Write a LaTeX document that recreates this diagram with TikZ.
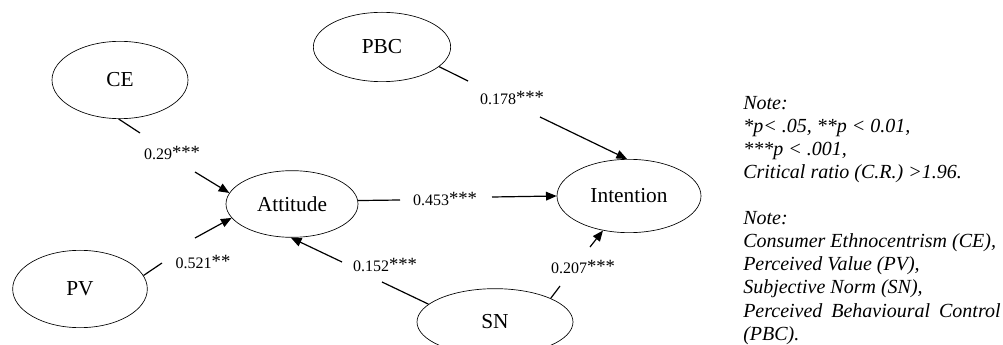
\documentclass[tikz,border=0pt]{standalone}
\usepackage{fontspec}
\setmainfont{Liberation Serif}
\usetikzlibrary{arrows.meta,shapes.geometric}

\newcommand{\sig}[1]{\raisebox{0.15ex}{\fontsize{14}{14}\selectfont#1}}

\begin{document}
\begin{tikzpicture}[x=0.75pt,y=-0.75pt,
  latent/.style={draw, ellipse, line width=0.5pt, inner sep=0pt, font=\fontsize{16}{19}\selectfont},
  coef/.style={font=\fontsize{12}{14}\selectfont, inner sep=1pt},
  plain/.style={line width=0.9pt},
  effect/.style={line width=0.9pt, -{Triangle[length=8pt,width=6.5pt]}},
  note/.style={font=\fontsize{15}{17}\selectfont\itshape, inner sep=0pt, anchor=base west}]

\path[use as bounding box, clip] (0,0) rectangle (1003,345);

% constructs
\node[latent, minimum width=102pt, minimum height=58pt] (CE)  at (120,80)  {CE};
\node[latent, minimum width=103pt, minimum height=52pt] (PBC) at (382,47)  {PBC};
\node[latent, minimum width=99pt,  minimum height=50pt] (Att) at (292,204) {Attitude};
\node[latent, minimum width=101pt, minimum height=58pt] (PV)  at (80,289)  {PV};
\node[latent, minimum width=117pt, minimum height=50pt] (SN)  at (495,322) {SN};
\node[latent, minimum width=108pt, minimum height=55pt] (Int) at (629,196) {Intention};

% free ends of the paths
\coordinate (ce1) at (140,133); \coordinate (ce2) at (195,172);
\coordinate (pv1) at (162,263); \coordinate (pv2) at (195,238);
\coordinate (sa1) at (382,282); \coordinate (sa2) at (342,262);
\coordinate (ai1) at (400,200); \coordinate (ai2) at (492,197);
\coordinate (pb1) at (468,81);  \coordinate (pb2) at (540,117);
\coordinate (si1) at (560,286); \coordinate (si2) at (590,247);

\draw[plain] (CE.-92) -- (ce1);
\draw[effect] (ce2) -- (Att.170);
\draw[plain] (PV.12) -- (pv1);
\draw[effect] (pv2) -- (Att.193);
\draw[plain] (SN.165) -- (sa1);
\draw[effect] (sa2) -- (Att.268);
\draw[plain] (Att.3) -- (ai1);
\draw[effect] (ai2) -- (Int.180);
\draw[plain] (PBC.-19) -- (pb1);
\draw[effect] (pb2) -- (Int.93);
\draw[plain] (SN.23) -- (si1);
\draw[effect] (si2) -- (Int.233);

% coefficients
\node[coef] (bCE)  at (172,153) {0.29\sig{***}};
\node[coef] (bPV)  at (203,262) {0.521\sig{**}};
\node[coef] (bSNa) at (385,265) {0.152\sig{***}};
\node[coef] (bAtt) at (445,199) {0.453\sig{***}};
\node[coef] (bPBC) at (512,98)  {0.178\sig{***}};
\node[coef] (bSNi) at (583,267) {0.207\sig{***}};

% notes
\foreach \yy/\txt in {110/{Note:}, 133/{*p< .05, **p < 0.01,}, 156/{***p < .001,},
    179/{Critical ratio (C.R.) >1.96.}, 225/{Note:}, 248/{Consumer Ethnocentrism (CE),},
    271/{Perceived Value (PV),}, 294/{Subjective Norm (SN),},
    317/{\hbox to 193pt{Perceived\hfill Behavioural\hfill Control}}, 340/{(PBC).}}
  \node[note] (note\yy) at (743,\yy) {\txt};

\end{tikzpicture}
\end{document}
